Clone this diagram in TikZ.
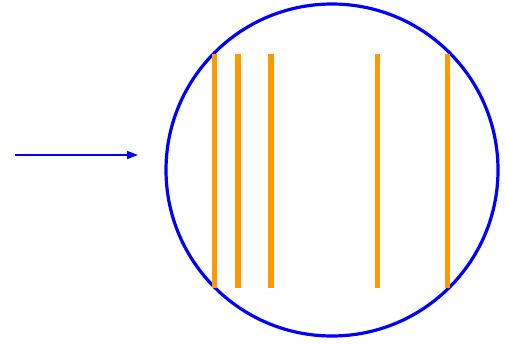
\documentclass[tikz,border=0pt]{standalone}
\usetikzlibrary{arrows.meta}
\definecolor{barorange}{HTML}{FF9900}
\definecolor{ringblue}{HTML}{0000FF}
\tikzset{
  ring/.style={draw=ringblue, line width=3.2pt},
  bar/.style={draw=barorange, line width=5.5pt},
  ray/.style={draw=ringblue, line width=1.6pt, -{Triangle[length=11pt,width=8pt]}}
}
\begin{document}
\begin{tikzpicture}[x=1pt,y=-1pt]
\useasboundingbox (0,0) rectangle (505,343);
\draw[ring] (332,170) circle (166);
\foreach \x in {214.5,238,271,377.5,447.5}{
  \draw[bar] (\x,53.5) -- (\x,288);
}
\coordinate (rs) at (15,155);
\coordinate (re) at (138,155);
\draw[ray] (rs) -- (re);
\end{tikzpicture}
\end{document}
